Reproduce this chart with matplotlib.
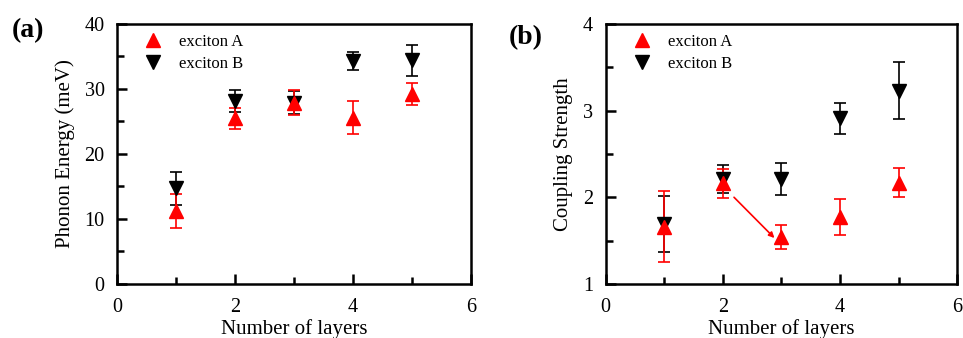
import matplotlib
matplotlib.use("Agg")
import matplotlib.pyplot as plt
from matplotlib.ticker import MultipleLocator
from matplotlib.lines import Line2D

plt.rcParams['font.family'] = ['Liberation Serif', 'DejaVu Serif']

layers = [1, 2, 3, 4, 5]
# Panel (a): phonon energy (meV)
energy_A = [11.2, 25.5, 27.9, 25.6, 29.2]
energy_A_err = [2.6, 1.6, 1.9, 2.5, 1.7]
energy_B = [14.7, 28.2, 27.9, 34.3, 34.4]
energy_B_err = [2.6, 1.7, 1.8, 1.4, 2.4]
# Panel (b): coupling strength
coup_A = [1.66, 2.16, 1.54, 1.77, 2.17]
coup_A_err = [0.41, 0.17, 0.14, 0.21, 0.17]
coup_B = [1.69, 2.21, 2.21, 2.91, 3.23]
coup_B_err = [0.32, 0.16, 0.18, 0.18, 0.33]

fig = plt.figure(figsize=(9.63, 3.38), dpi=100)
axa = fig.add_axes([0.1215, 0.16, 0.3675, 0.769])
axb = fig.add_axes([0.629, 0.16, 0.365, 0.769])

def style(ax, ylim, ymaj, ymin, ylabel):
    ax.set_xlim(0, 6)
    ax.set_ylim(*ylim)
    ax.xaxis.set_major_locator(MultipleLocator(2))
    ax.xaxis.set_minor_locator(MultipleLocator(1))
    ax.yaxis.set_major_locator(MultipleLocator(ymaj))
    ax.yaxis.set_minor_locator(MultipleLocator(ymin))
    ax.tick_params(which='both', direction='in', top=False, right=False,
                   labelsize=14.5, width=1.8)
    ax.tick_params(axis='x', pad=10)
    ax.tick_params(axis='y', pad=9)
    ax.tick_params(which='major', length=7)
    ax.tick_params(which='minor', length=5)
    for s in ax.spines.values():
        s.set_linewidth(1.8)
    ax.set_xlabel('Number of layers', fontsize=15, labelpad=2)
    ax.set_ylabel(ylabel, fontsize=15, labelpad=7)

def draw(ax, yA, eA, yB, eB):
    ax.errorbar(layers, yB, yerr=eB, fmt='v', color='black', ms=10,
                capsize=4, elinewidth=1.2, capthick=1.2)
    ax.errorbar(layers, yA, yerr=eA, fmt='^', color='red', ms=10,
                capsize=4, elinewidth=1.2, capthick=1.2)
    hA = Line2D([], [], ls='none', marker='^', color='red', ms=10)
    hB = Line2D([], [], ls='none', marker='v', color='black', ms=10)
    ax.legend([hA, hB], ['exciton A', 'exciton B'], loc='upper left',
              bbox_to_anchor=(0.025, 1.02), frameon=False, fontsize=12,
              handletextpad=0.8, labelspacing=0.35, handlelength=1.5)

draw(axa, energy_A, energy_A_err, energy_B, energy_B_err)
style(axa, (0, 40), 10, 5, 'Phonon Energy (meV)')

draw(axb, coup_A, coup_A_err, coup_B, coup_B_err)
style(axb, (1, 4), 1, 0.5, 'Coupling Strength')
axb.annotate('', xy=(2.88, 1.53), xytext=(2.19, 2.0),
             arrowprops=dict(arrowstyle='-|>', color='red', lw=1.2,
                             mutation_scale=8, shrinkA=0, shrinkB=0))

fig.text(0.012, 0.91, '(a)', fontsize=20, fontweight='bold', va='center')
fig.text(0.528, 0.89, '(b)', fontsize=20, fontweight='bold', va='center')

fig.savefig('out.png', dpi=100)
